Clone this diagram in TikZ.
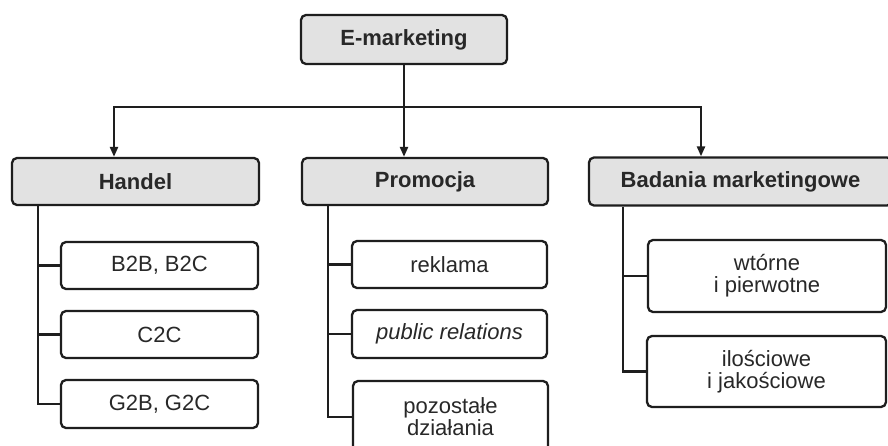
\documentclass[tikz,border=0pt]{standalone}
\usepackage{fontspec}
\setmainfont{Liberation Sans}
\usetikzlibrary{arrows.meta}
\definecolor{hdrfill}{HTML}{E2E2E2}
\definecolor{linec}{HTML}{1E1E1E}
\definecolor{txtc}{HTML}{282828}
\begin{document}
\begin{tikzpicture}[x=1pt,y=-1pt,
  box/.style={draw=linec, line width=2.3pt, rounded corners=5pt, inner sep=0pt,
              text=txtc, align=center, font=\fontsize{22}{22}\selectfont},
  hdr/.style={box, fill=hdrfill, font=\fontsize{22}{22}\selectfont\bfseries},
  leaf/.style={box, fill=white},
  conn/.style={draw=linec, line width=2.3pt},
  arr/.style={conn, -{Triangle[length=10pt,width=8pt]}}]
\useasboundingbox (0,0) rectangle (888,446);
\clip (0,0) rectangle (888,446);
\fill[white] (0,0) rectangle (888,446);
% headers
\node[hdr, minimum width=206pt, minimum height=49pt] (emk) at (404,39.5) {E-marketing};
\node[hdr, minimum width=247pt, minimum height=47pt] (han) at (135.5,181.5) {Handel};
\node[hdr, minimum width=246pt, minimum height=47pt] (pro) at (425,181.5) {Promocja};
\node[hdr, minimum width=303pt, minimum height=48pt] (bad) at (740.5,181.5) {Badania marketingowe};
% leaves
\node[leaf, minimum width=197pt, minimum height=47pt] (b2b) at (159.5,265.5) {B2B, B2C};
\node[leaf, minimum width=197pt, minimum height=47pt] (c2c) at (159.5,334.5) {C2C};
\node[leaf, minimum width=197pt, minimum height=48pt] (g2b) at (159.5,404) {G2B, G2C};
\node[leaf, minimum width=195pt, minimum height=47pt] (rek) at (449.5,264.5) {reklama};
\node[leaf, minimum width=195pt, minimum height=48pt] (pr) at (449.5,334) {\itshape public relations};
\node[leaf, minimum width=195pt, minimum height=72pt] (poz) at (450.5,417) {pozostałe\\działania};
\node[leaf, minimum width=238pt, minimum height=72pt] (wto) at (767,276) {wtórne\\i pierwotne};
\node[leaf, minimum width=239pt, minimum height=71pt] (ilo) at (766.5,371.5) {ilościowe\\i jakościowe};
% top connectors
\coordinate (jL) at (114,107);
\coordinate (jM) at (404,107);
\coordinate (jR) at (701,107);
\draw[conn] (emk.south) -- (jM);
\draw[conn, line cap=rect] (jL) -- (jR);
\draw[arr] (jL) -- (jL |- han.north);
\draw[arr] (jM) -- (jM |- pro.north);
\draw[arr] (jR) -- (jR |- bad.north);
% spines
\coordinate (sL) at (38,0);
\coordinate (sM) at (328,0);
\coordinate (sR) at (623,0);
\draw[conn] (sL |- han.south) |- (g2b.west);
\draw[conn] (sL |- b2b.west) -- (b2b.west);
\draw[conn] (sL |- c2c.west) -- (c2c.west);
\draw[conn] (sM |- pro.south) |- (poz.west);
\draw[conn] (sM |- rek.west) -- (rek.west);
\draw[conn] (sM |- pr.west) -- (pr.west);
\draw[conn] (sR |- bad.south) |- (ilo.west);
\draw[conn] (sR |- wto.west) -- (wto.west);
\end{tikzpicture}
\end{document}
